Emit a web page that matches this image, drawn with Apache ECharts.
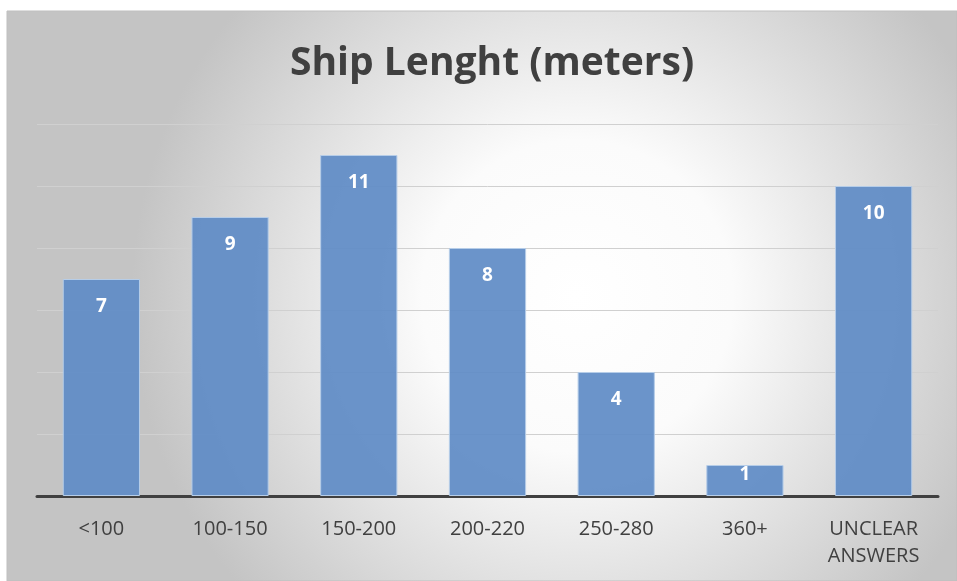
<!DOCTYPE html>
<html>
<head>
<meta charset="utf-8">
<script src="https://cdn.jsdelivr.net/npm/echarts@6/dist/echarts.min.js"></script>
<style>
  html, body { margin: 0; padding: 0; background: #fff; }
  #chart { width: 957px; height: 581px; }
</style>
</head>
<body>
<div id="chart"></div>
<script>
// categories and counts
var categories = ['<100', '100-150', '150-200', '200-220', '250-280', '360+', 'UNCLEAR\nANSWERS'];
var counts = [7, 9, 11, 8, 4, 1, 10];

var chartObj = echarts.init(document.getElementById('chart'));

// short bars get their label pulled up near the top edge
var barData = counts.map(function (v) {
  return v < 2 ? { value: v, label: { distance: 0 } } : v;
});

var option = {
  animation: false,
  graphic: [{
    type: 'rect',
    z: -10,
    shape: { x: 7, y: 11, width: 950, height: 570 },
    style: {
      fill: {
        type: 'radial', x: 0.6, y: 0.5, r: 0.78,
        colorStops: [
          { offset: 0, color: '#ffffff' },
          { offset: 0.35, color: '#fbfbfb' },
          { offset: 1, color: '#c4c4c4' }
        ]
      },
      stroke: '#bfbfbf',
      lineWidth: 1
    }
  }],
  title: {
    text: 'Ship Lenght (meters)',
    left: 285,
    top: 39,
    textStyle: {
      fontFamily: 'Open Sans',
      fontSize: 39,
      fontWeight: 'bold',
      color: '#404040'
    }
  },
  grid: { left: 37, right: 19, top: 124, bottom: 85 },
  xAxis: {
    type: 'category',
    data: categories,
    axisLine: { lineStyle: { color: '#404040', width: 3 } },
    axisTick: { show: false },
    axisLabel: {
      margin: 20,
      fontFamily: 'Open Sans',
      fontSize: 20,
      lineHeight: 27,
      color: '#404040'
    }
  },
  yAxis: {
    type: 'value',
    min: 0,
    max: 12,
    interval: 2,
    axisLabel: { show: false },
    axisLine: { show: false },
    axisTick: { show: false },
    splitLine: { lineStyle: { color: '#d0d0d0', width: 1 } }
  },
  series: [{
    type: 'bar',
    data: barData,
    barWidth: '60%',
    itemStyle: {
      color: 'rgba(94,139,198,0.92)',
      borderColor: '#b6cde8',
      borderWidth: 1
    },
    label: {
      show: true,
      position: 'insideTop',
      distance: 18,
      fontFamily: 'Open Sans',
      fontSize: 19,
      fontWeight: 'bold',
      color: '#ffffff'
    }
  }]
};
chartObj.setOption(option);
</script>
</body>
</html>
